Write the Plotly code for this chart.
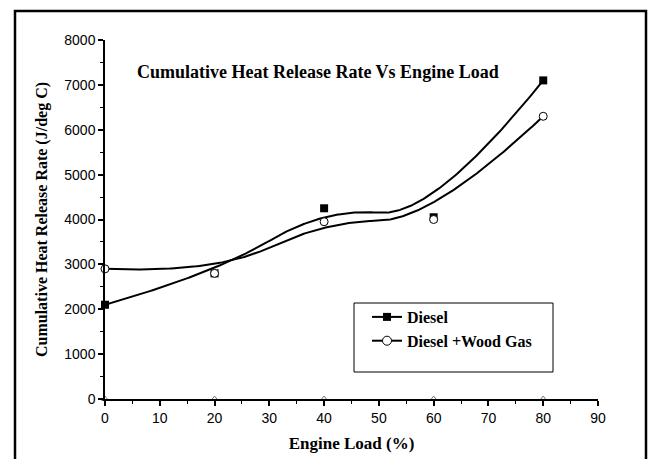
import numpy as np
import plotly.graph_objects as go

# ---- data ----
engine_load = [0, 20, 40, 60, 80]
diesel = [2100, 2800, 4250, 4050, 7100]
diesel_wood_gas = [2900, 2800, 3950, 4000, 6300]
baseline = [0, 0, 0, 0, 0]

x_ticks = [0, 10, 20, 30, 40, 50, 60, 70, 80, 90]
y_ticks = [0, 1000, 2000, 3000, 4000, 5000, 6000, 7000, 8000]


def bspline(xs, ys, degree=2, n=300):
    """Clamped B-spline using the data points as control points (Origin's B-Spline connect)."""
    pts = np.column_stack([xs, ys]).astype(float)
    m = len(pts)
    inner = list(range(1, m - degree))
    knots = np.array([0] * (degree + 1) + inner + [m - degree] * (degree + 1), float)
    ts = np.linspace(0, m - degree, n)
    out = []
    for t in ts:
        if t >= knots[-1]:
            k = m - 1
        else:
            k = np.searchsorted(knots, t, side="right") - 1
        d = [pts[j + k - degree].copy() for j in range(degree + 1)]
        for r in range(1, degree + 1):
            for j in range(degree, r - 1, -1):
                i = j + k - degree
                denom = knots[i + degree - r + 1] - knots[i]
                a = 0.0 if denom == 0 else (t - knots[i]) / denom
                d[j] = (1 - a) * d[j - 1] + a * d[j]
        out.append(d[degree])
    out = np.array(out)
    return out[:, 0], out[:, 1]


dx, dy = bspline(engine_load, diesel)
wx, wy = bspline(engine_load, diesel_wood_gas)

serif = "Liberation Serif"
sans = "Liberation Sans"

L, R, T, B = 105, 53, 40, 60
PW = 651 - L - R
PH = 459 - T - B


def px(xp):
    return (xp - L) / PW


def py(yp):
    return (459 - B - yp) / PH


fig = go.Figure()

fig.add_trace(go.Scatter(x=dx, y=dy, mode="lines", line=dict(color="black", width=2),
                         showlegend=False, hoverinfo="skip"))
fig.add_trace(go.Scatter(x=wx, y=wy, mode="lines", line=dict(color="black", width=2),
                         showlegend=False, hoverinfo="skip"))

fig.add_trace(go.Scatter(x=engine_load, y=diesel, mode="markers", name="Diesel",
                         marker=dict(symbol="square", size=8, color="black"),
                         showlegend=False, cliponaxis=False))
fig.add_trace(go.Scatter(x=engine_load, y=diesel_wood_gas, mode="markers", name="Diesel +Wood Gas",
                         marker=dict(symbol="circle", size=8, color="white",
                                     line=dict(color="black", width=1)),
                         showlegend=False, cliponaxis=False))
fig.add_trace(go.Scatter(x=engine_load, y=baseline, mode="markers",
                         marker=dict(symbol="triangle-up-open", size=6, color="#777777",
                                     line=dict(width=1)),
                         showlegend=False, cliponaxis=False))

fig.add_trace(go.Scatter(x=[None], y=[None], mode="lines+markers", name="<b>Diesel</b>",
                         line=dict(color="black", width=2),
                         marker=dict(symbol="square", size=8, color="black")))
fig.add_trace(go.Scatter(x=[None], y=[None], mode="lines+markers", name="<b>Diesel +Wood Gas</b>",
                         line=dict(color="black", width=2),
                         marker=dict(symbol="circle", size=9, color="white",
                                     line=dict(color="black", width=1))))

fig.update_layout(
    width=651, height=459,
    margin=dict(l=L, r=R, t=T, b=B, autoexpand=False),
    paper_bgcolor="white", plot_bgcolor="white",
    font=dict(family=sans, size=13, color="black"),
    xaxis=dict(range=[0, 90], tickvals=x_ticks, ticktext=[str(v) for v in x_ticks],
               automargin=False,
               showgrid=False, zeroline=False, showline=True, linecolor="black", linewidth=1.5,
               ticks="outside", ticklen=5, tickwidth=1.5, tickcolor="black",
               minor=dict(dtick=5, ticks="outside", ticklen=3, tickwidth=1, tickcolor="black"),
               tickfont=dict(family=sans, size=14),
               title=dict(text="<b>Engine Load (%)</b>", font=dict(family=serif, size=17), standoff=13)),
    yaxis=dict(range=[0, 8000], tickvals=y_ticks, ticktext=[str(v) for v in y_ticks],
               automargin=False,
               showgrid=False, zeroline=False, showline=True, linecolor="black", linewidth=1.5,
               ticks="outside", ticklen=5, tickwidth=1.5, tickcolor="black",
               minor=dict(dtick=500, ticks="outside", ticklen=3, tickwidth=1, tickcolor="black"),
               tickfont=dict(family=sans, size=14),
               title=dict(text="<b>Cumulative Heat Release Rate (J/deg C)</b>",
                          font=dict(family=serif, size=16), standoff=13)),
    legend=dict(x=px(367), y=py(300), xanchor="left", yanchor="top",
                bgcolor="rgba(0,0,0,0)", borderwidth=0,
                font=dict(family=serif, size=16, color="black"),
                itemwidth=30, tracegroupgap=0),
    showlegend=True,
    shapes=[
        dict(type="rect", xref="paper", yref="paper",
             x0=px(15), x1=px(646), y0=py(475), y1=py(11),
             line=dict(color="black", width=2.5), fillcolor="rgba(0,0,0,0)", layer="below"),
        dict(type="rect", xref="paper", yref="paper",
             x0=px(354), x1=px(553), y0=py(372), y1=py(303),
             line=dict(color="black", width=1), fillcolor="rgba(0,0,0,0)"),
    ],
    annotations=[
        dict(text="<b>Cumulative Heat Release Rate Vs Engine Load</b>",
             xref="paper", yref="paper", x=px(318), y=py(72),
             xanchor="center", yanchor="middle", showarrow=False,
             font=dict(family=serif, size=18, color="black")),
    ],
)

fig.write_html(
    "out.html",
    config={"displayModeBar": False},
    post_script="document.body.style.margin='0';document.body.style.overflow='hidden';"
                "document.documentElement.style.overflow='hidden';",
)
